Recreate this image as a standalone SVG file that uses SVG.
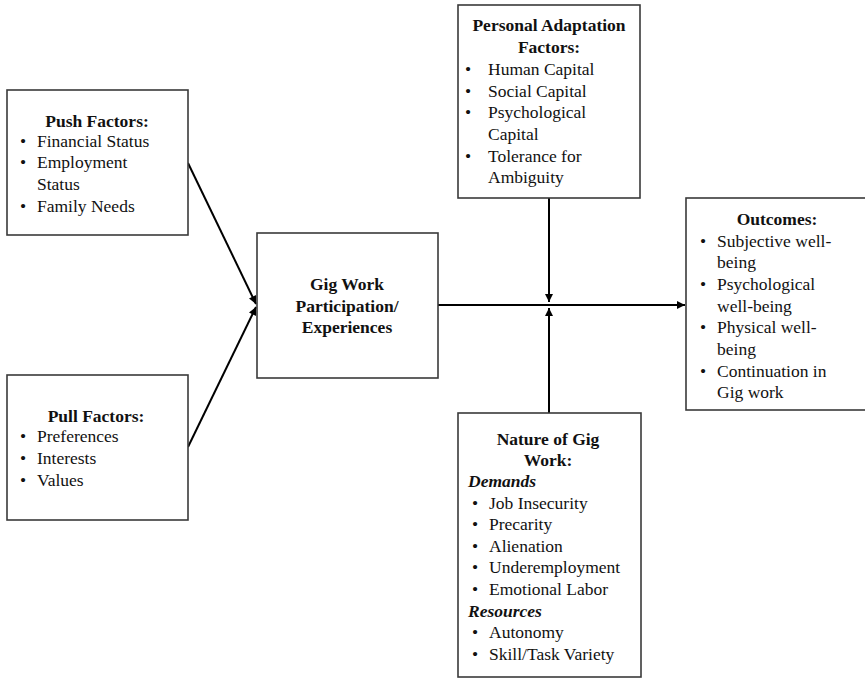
<svg xmlns="http://www.w3.org/2000/svg" width="865" height="679" viewBox="0 0 865 679">
<defs>
<style>
.box{fill:#fff;stroke:#3a3a3a;stroke-width:1.6}
text{font-family:"Liberation Serif","Times New Roman",serif;font-size:17.5px;fill:#111}
.h{font-weight:bold;text-anchor:middle}
.i{font-weight:bold;font-style:italic}
.c{stroke:#000;stroke-width:2;fill:none}
</style>
<marker id="ah" viewBox="0 0 10 10" refX="10" refY="5" markerWidth="9" markerHeight="8" markerUnits="userSpaceOnUse" orient="auto">
<path d="M0,0 L10,5 L0,10 Z" fill="#000"/>
</marker>
</defs>
<rect width="865" height="679" fill="#fff"/>
<g id="connectors">
<line class="c" x1="188" y1="163" x2="256" y2="304" marker-end="url(#ah)"/>
<line class="c" x1="188" y1="447" x2="256" y2="307" marker-end="url(#ah)"/>
<line class="c" x1="438" y1="305" x2="685" y2="305" marker-end="url(#ah)"/>
<line class="c" x1="549" y1="198" x2="549" y2="302" marker-end="url(#ah)"/>
<line class="c" x1="549" y1="413" x2="549" y2="308" marker-end="url(#ah)"/>
</g>
<g id="push">
<rect class="box" x="7" y="90" width="181" height="145"/>
<text class="h" x="97" y="127">Push Factors:</text>
<text x="20" y="147">•</text><text x="37" y="147">Financial Status</text>
<text x="20" y="168">•</text><text x="37" y="168">Employment</text>
<text x="37" y="190">Status</text>
<text x="20" y="212">•</text><text x="37" y="212">Family Needs</text>
</g>
<g id="pull">
<rect class="box" x="7" y="375" width="181" height="145"/>
<text class="h" x="96" y="422">Pull Factors:</text>
<text x="20" y="442">•</text><text x="37" y="442">Preferences</text>
<text x="20" y="464">•</text><text x="37" y="464">Interests</text>
<text x="20" y="486">•</text><text x="37" y="486">Values</text>
</g>
<g id="gig">
<rect class="box" x="257" y="233" width="181" height="145"/>
<text class="h" x="347" y="290">Gig Work</text>
<text class="h" x="347" y="312">Participation/</text>
<text class="h" x="347" y="333">Experiences</text>
</g>
<g id="personal">
<rect class="box" x="458" y="5" width="182" height="193"/>
<text class="h" x="549" y="31">Personal Adaptation</text>
<text class="h" x="549" y="53">Factors:</text>
<text x="465" y="75">•</text><text x="488" y="75">Human Capital</text>
<text x="465" y="97">•</text><text x="488" y="97">Social Capital</text>
<text x="465" y="118">•</text><text x="488" y="118">Psychological</text>
<text x="488" y="140">Capital</text>
<text x="465" y="162">•</text><text x="488" y="162">Tolerance for</text>
<text x="488" y="183">Ambiguity</text>
</g>
<g id="nature">
<rect class="box" x="458" y="413" width="183" height="264"/>
<text class="h" x="548" y="445">Nature of Gig</text>
<text class="h" x="548" y="466">Work:</text>
<text class="i" x="468" y="487">Demands</text>
<text x="472" y="509">•</text><text x="489" y="509">Job Insecurity</text>
<text x="472" y="530">•</text><text x="489" y="530">Precarity</text>
<text x="472" y="552">•</text><text x="489" y="552">Alienation</text>
<text x="472" y="573">•</text><text x="489" y="573">Underemployment</text>
<text x="472" y="595">•</text><text x="489" y="595">Emotional Labor</text>
<text class="i" x="468" y="617">Resources</text>
<text x="472" y="638">•</text><text x="489" y="638">Autonomy</text>
<text x="472" y="660">•</text><text x="489" y="660">Skill/Task Variety</text>
</g>
<g id="outcomes">
<rect class="box" x="686" y="198" width="184" height="212"/>
<text class="h" x="777" y="225">Outcomes:</text>
<text x="700" y="247">•</text><text x="717" y="247">Subjective well-</text>
<text x="717" y="268">being</text>
<text x="700" y="290">•</text><text x="717" y="290">Psychological</text>
<text x="717" y="312">well-being</text>
<text x="700" y="333">•</text><text x="717" y="333">Physical well-</text>
<text x="717" y="355">being</text>
<text x="700" y="377">•</text><text x="717" y="377">Continuation in</text>
<text x="717" y="398">Gig work</text>
</g>
</svg>
